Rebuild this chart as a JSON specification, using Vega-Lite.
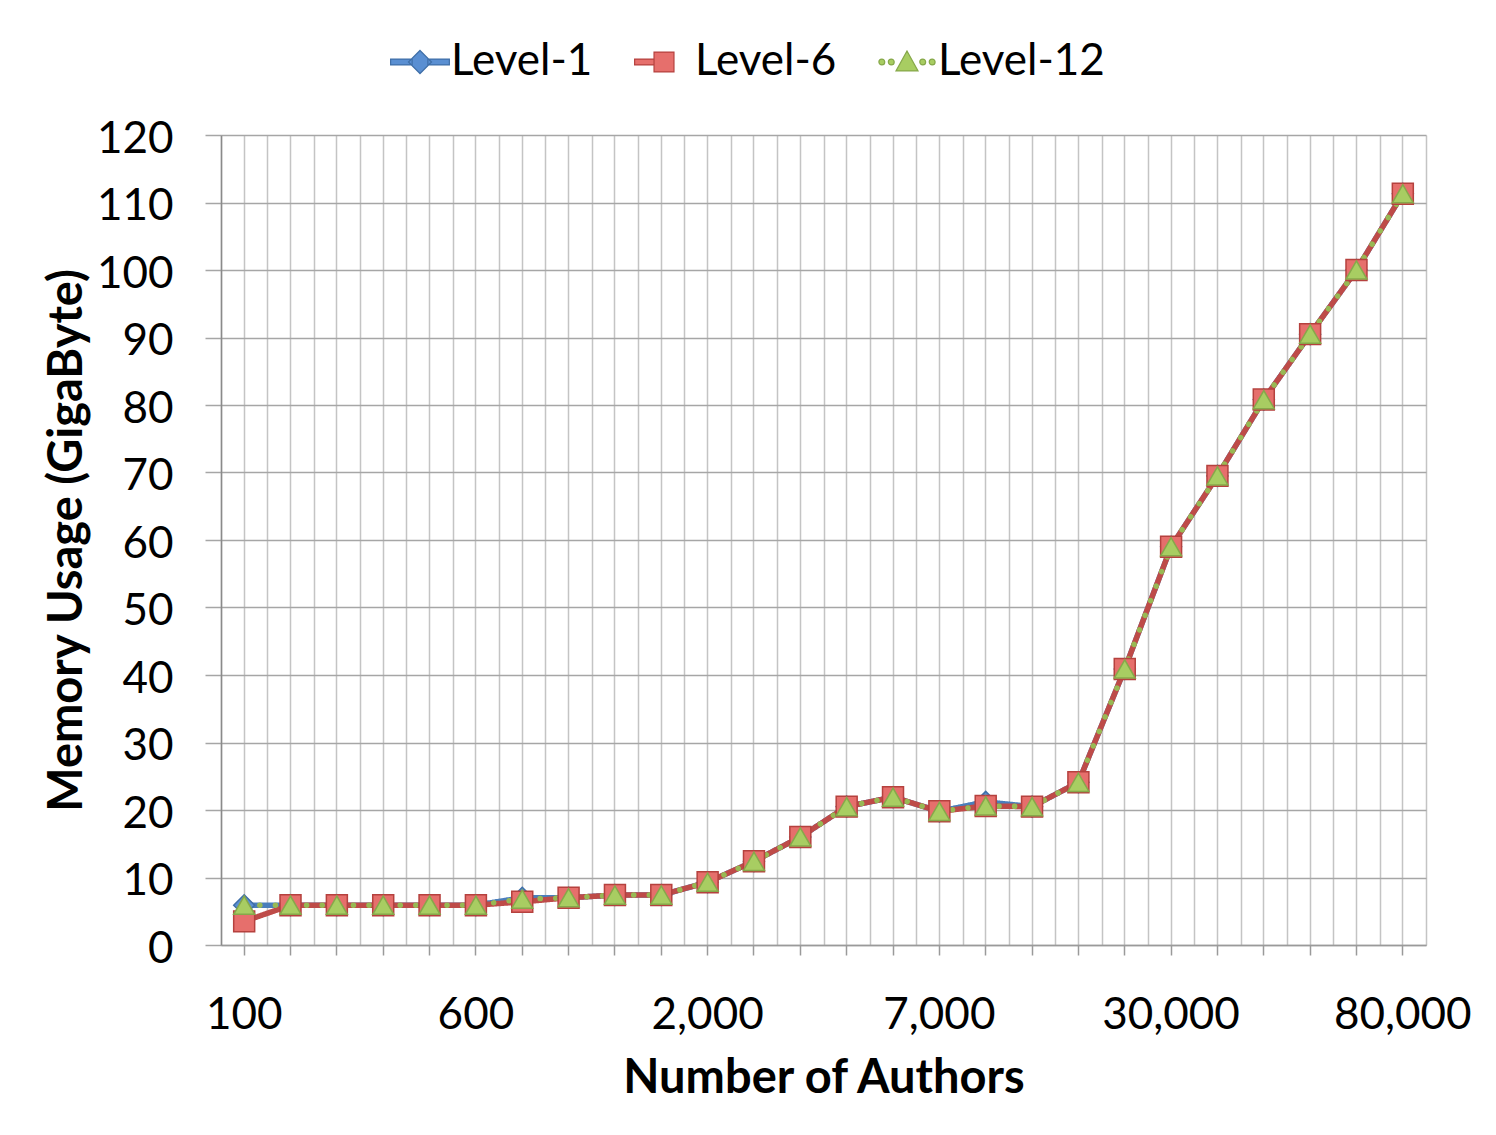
{
  "$schema": "https://vega.github.io/schema/vega-lite/v6.json",
  "autosize": {"type": "none"},
  "padding": {"left": 221, "top": 135, "right": 70, "bottom": 190},
  "width": 1205,
  "height": 810,
  "background": "white",
  "config": {
    "view": {"stroke": null},
    "font": "Lato",
    "axis": {"labelFont": "Lato", "titleFont": "Lato", "labelColor": "black", "titleColor": "black"},
    "legend": {"labelFont": "Lato", "labelFontSize": 44, "labelColor": "black", "labelLimit": 0}
  },
  "data": {
    "values": [
      {"authors": "100", "series": "Level-1", "memory": 5.9},
      {"authors": "200", "series": "Level-1", "memory": 5.9},
      {"authors": "300", "series": "Level-1", "memory": 5.9},
      {"authors": "400", "series": "Level-1", "memory": 5.9},
      {"authors": "500", "series": "Level-1", "memory": 5.9},
      {"authors": "600", "series": "Level-1", "memory": 5.9},
      {"authors": "700", "series": "Level-1", "memory": 7.0},
      {"authors": "800", "series": "Level-1", "memory": 7.0},
      {"authors": "900", "series": "Level-1", "memory": 7.4},
      {"authors": "1,000", "series": "Level-1", "memory": 7.4},
      {"authors": "2,000", "series": "Level-1", "memory": 9.3},
      {"authors": "3,000", "series": "Level-1", "memory": 12.4},
      {"authors": "4,000", "series": "Level-1", "memory": 16.0},
      {"authors": "5,000", "series": "Level-1", "memory": 20.5},
      {"authors": "6,000", "series": "Level-1", "memory": 21.9},
      {"authors": "7,000", "series": "Level-1", "memory": 19.8},
      {"authors": "8,000", "series": "Level-1", "memory": 21.2},
      {"authors": "9,000", "series": "Level-1", "memory": 20.5},
      {"authors": "10,000", "series": "Level-1", "memory": 24.1},
      {"authors": "20,000", "series": "Level-1", "memory": 40.9},
      {"authors": "30,000", "series": "Level-1", "memory": 59.0},
      {"authors": "40,000", "series": "Level-1", "memory": 69.5},
      {"authors": "50,000", "series": "Level-1", "memory": 80.8},
      {"authors": "60,000", "series": "Level-1", "memory": 90.5},
      {"authors": "70,000", "series": "Level-1", "memory": 100.0},
      {"authors": "80,000", "series": "Level-1", "memory": 111.3},
      {"authors": "100", "series": "Level-6", "memory": 3.5},
      {"authors": "200", "series": "Level-6", "memory": 5.9},
      {"authors": "300", "series": "Level-6", "memory": 5.9},
      {"authors": "400", "series": "Level-6", "memory": 5.9},
      {"authors": "500", "series": "Level-6", "memory": 5.9},
      {"authors": "600", "series": "Level-6", "memory": 5.9},
      {"authors": "700", "series": "Level-6", "memory": 6.4},
      {"authors": "800", "series": "Level-6", "memory": 7.0},
      {"authors": "900", "series": "Level-6", "memory": 7.4},
      {"authors": "1,000", "series": "Level-6", "memory": 7.4},
      {"authors": "2,000", "series": "Level-6", "memory": 9.3},
      {"authors": "3,000", "series": "Level-6", "memory": 12.4},
      {"authors": "4,000", "series": "Level-6", "memory": 16.0},
      {"authors": "5,000", "series": "Level-6", "memory": 20.5},
      {"authors": "6,000", "series": "Level-6", "memory": 21.9},
      {"authors": "7,000", "series": "Level-6", "memory": 19.8},
      {"authors": "8,000", "series": "Level-6", "memory": 20.6},
      {"authors": "9,000", "series": "Level-6", "memory": 20.5},
      {"authors": "10,000", "series": "Level-6", "memory": 24.1},
      {"authors": "20,000", "series": "Level-6", "memory": 40.9},
      {"authors": "30,000", "series": "Level-6", "memory": 59.0},
      {"authors": "40,000", "series": "Level-6", "memory": 69.5},
      {"authors": "50,000", "series": "Level-6", "memory": 80.8},
      {"authors": "60,000", "series": "Level-6", "memory": 90.5},
      {"authors": "70,000", "series": "Level-6", "memory": 100.0},
      {"authors": "80,000", "series": "Level-6", "memory": 111.3},
      {"authors": "100", "series": "Level-12", "memory": 5.9},
      {"authors": "200", "series": "Level-12", "memory": 5.9},
      {"authors": "300", "series": "Level-12", "memory": 5.9},
      {"authors": "400", "series": "Level-12", "memory": 5.9},
      {"authors": "500", "series": "Level-12", "memory": 5.9},
      {"authors": "600", "series": "Level-12", "memory": 5.9},
      {"authors": "700", "series": "Level-12", "memory": 6.8},
      {"authors": "800", "series": "Level-12", "memory": 7.0},
      {"authors": "900", "series": "Level-12", "memory": 7.4},
      {"authors": "1,000", "series": "Level-12", "memory": 7.4},
      {"authors": "2,000", "series": "Level-12", "memory": 9.3},
      {"authors": "3,000", "series": "Level-12", "memory": 12.4},
      {"authors": "4,000", "series": "Level-12", "memory": 16.0},
      {"authors": "5,000", "series": "Level-12", "memory": 20.5},
      {"authors": "6,000", "series": "Level-12", "memory": 21.9},
      {"authors": "7,000", "series": "Level-12", "memory": 19.8},
      {"authors": "8,000", "series": "Level-12", "memory": 20.6},
      {"authors": "9,000", "series": "Level-12", "memory": 20.5},
      {"authors": "10,000", "series": "Level-12", "memory": 24.1},
      {"authors": "20,000", "series": "Level-12", "memory": 40.9},
      {"authors": "30,000", "series": "Level-12", "memory": 59.0},
      {"authors": "40,000", "series": "Level-12", "memory": 69.5},
      {"authors": "50,000", "series": "Level-12", "memory": 80.8},
      {"authors": "60,000", "series": "Level-12", "memory": 90.5},
      {"authors": "70,000", "series": "Level-12", "memory": 100.0},
      {"authors": "80,000", "series": "Level-12", "memory": 111.3}
    ]
  },
  "layer": [
    {
      "mark": {"type": "line", "strokeWidth": 5.5, "strokeCap": "round", "strokeJoin": "round"},
      "encoding": {
        "x": {
          "field": "authors", "type": "ordinal",
          "sort": ["100","200","300","400","500","600","700","800","900","1,000","2,000","3,000","4,000","5,000","6,000","7,000","8,000","9,000","10,000","20,000","30,000","40,000","50,000","60,000","70,000","80,000"],
          "scale": {"type": "band", "paddingInner": 0, "paddingOuter": 0},
          "axis": {
            "orient": "bottom",
            "title": "Number of Authors",
            "titleFontSize": 47, "titleFontWeight": "bold", "titlePadding": 18,
            "labelFontSize": 44, "labelAngle": 0, "labelPadding": 38,
            "labelExpr": "indexof(['100','600','2,000','7,000','30,000','80,000'], datum.label) >= 0 ? datum.label : ''",
            "labelOverlap": false,
            "domain": true, "domainColor": "#9A9A9A", "domainWidth": 1.5,
            "ticks": true, "tickSize": 10, "tickColor": "#9A9A9A", "tickWidth": 1.5,
            "grid": true, "gridColor": "#C4C4C4", "gridWidth": 1.5
          }
        },
        "y": {
          "field": "memory", "type": "quantitative",
          "scale": {"domain": [0, 120], "nice": false},
          "axis": {
            "title": "Memory Usage (GigaByte)",
            "titleFontSize": 47, "titleFontWeight": "bold", "titlePadding": 5,
            "values": [0,10,20,30,40,50,60,70,80,90,100,110,120],
            "labelFontSize": 44, "labelPadding": 32, "labelOffset": 4,
            "domain": true, "domainColor": "#8A8A8A", "domainWidth": 1.5,
            "ticks": true, "tickSize": 16, "tickColor": "#A6A6A6", "tickWidth": 1.5,
            "grid": true, "gridColor": "#A6A6A6", "gridWidth": 1.5
          }
        },
        "color": {
          "field": "series", "type": "nominal",
          "scale": {"domain": ["Level-1", "Level-6", "Level-12"], "range": ["#4A7EBB", "#BE4B48", "#98B954"]},
          "legend": null
        },
        "strokeDash": {
          "field": "series", "type": "nominal",
          "scale": {"domain": ["Level-1", "Level-6", "Level-12"], "range": [[1, 0], [1, 0], [0.1, 15.5]]},
          "legend": null
        }
      }
    },
    {
      "mark": {"type": "point", "filled": true, "size": 440, "strokeWidth": 1.5, "opacity": 1},
      "encoding": {
        "x": {
          "field": "authors", "type": "ordinal",
          "sort": ["100","200","300","400","500","600","700","800","900","1,000","2,000","3,000","4,000","5,000","6,000","7,000","8,000","9,000","10,000","20,000","30,000","40,000","50,000","60,000","70,000","80,000"],
          "axis": {
            "orient": "bottom", "tickBand": "extent",
            "title": null, "labels": false, "ticks": false, "domain": false,
            "grid": true, "gridColor": "#C4C4C4", "gridWidth": 1.5
          }
        },
        "y": {"field": "memory", "type": "quantitative"},
        "shape": {
          "field": "series", "type": "nominal",
          "scale": {"domain": ["Level-1", "Level-6", "Level-12"], "range": ["diamond", "square", "triangle-up"]},
          "legend": null
        },
        "fill": {
          "field": "series", "type": "nominal",
          "scale": {"domain": ["Level-1", "Level-6", "Level-12"], "range": ["#5A8FD2", "#E66F6C", "#A8CD62"]},
          "legend": null
        },
        "stroke": {
          "field": "series", "type": "nominal",
          "scale": {"domain": ["Level-1", "Level-6", "Level-12"], "range": ["#3F6FA8", "#B5413E", "#86A84A"]},
          "legend": null
        }
      }
    },
    {
      "transform": [{"filter": "datum.memory < 0"}],
      "mark": {"type": "point", "filled": true, "size": 440, "strokeWidth": 1.2, "opacity": 1},
      "encoding": {
        "x": {
          "field": "authors", "type": "ordinal",
          "sort": ["100","200","300","400","500","600","700","800","900","1,000","2,000","3,000","4,000","5,000","6,000","7,000","8,000","9,000","10,000","20,000","30,000","40,000","50,000","60,000","70,000","80,000"],
          "axis": null
        },
        "y": {"field": "memory", "type": "quantitative"},
        "shape": {
          "field": "series", "type": "nominal",
          "scale": {"domain": ["Level-1", "Level-6", "Level-12"], "range": [
            "M-2.8,-0.28H-0.75V0.28H-2.8Z M0.75,-0.28H2.8V0.28H0.75Z M0,-1.1L1.1,0L0,1.1L-1.1,0Z",
            "M-2.8,-0.28H-0.95V0.28H-2.8Z M-0.95,-0.95H0.95V0.95H-0.95Z",
            "M-2.68,0a0.28,0.28 0 1,0 0.56,0a0.28,0.28 0 1,0 -0.56,0Z M-1.78,0a0.28,0.28 0 1,0 0.56,0a0.28,0.28 0 1,0 -0.56,0Z M1.22,0a0.28,0.28 0 1,0 0.56,0a0.28,0.28 0 1,0 -0.56,0Z M2.12,0a0.28,0.28 0 1,0 0.56,0a0.28,0.28 0 1,0 -0.56,0Z M0,-1.05L1.05,0.85H-1.05Z"
          ]},
          "legend": {
            "orient": "none", "legendX": 177, "legendY": -95, "direction": "horizontal",
            "title": null, "symbolSize": 440, "symbolStrokeWidth": 1.2, "columnPadding": 39, "labelOffset": 9
          }
        },
        "fill": {
          "field": "series", "type": "nominal",
          "scale": {"domain": ["Level-1", "Level-6", "Level-12"], "range": ["#5A8FD2", "#E66F6C", "#A8CD62"]},
          "legend": {
            "orient": "none", "legendX": 177, "legendY": -95, "direction": "horizontal",
            "title": null, "symbolSize": 440, "symbolStrokeWidth": 1.2, "columnPadding": 39, "labelOffset": 9
          }
        },
        "stroke": {
          "field": "series", "type": "nominal",
          "scale": {"domain": ["Level-1", "Level-6", "Level-12"], "range": ["#3F6FA8", "#B5413E", "#86A84A"]},
          "legend": {
            "orient": "none", "legendX": 177, "legendY": -95, "direction": "horizontal",
            "title": null, "symbolSize": 440, "symbolStrokeWidth": 1.2, "columnPadding": 39, "labelOffset": 9
          }
        }
      }
    }
  ],
  "resolve": {
    "axis": {"x": "independent"},
    "scale": {"shape": "independent", "fill": "independent", "stroke": "independent"},
    "legend": {"color": "independent", "strokeDash": "independent"}
  }
}
